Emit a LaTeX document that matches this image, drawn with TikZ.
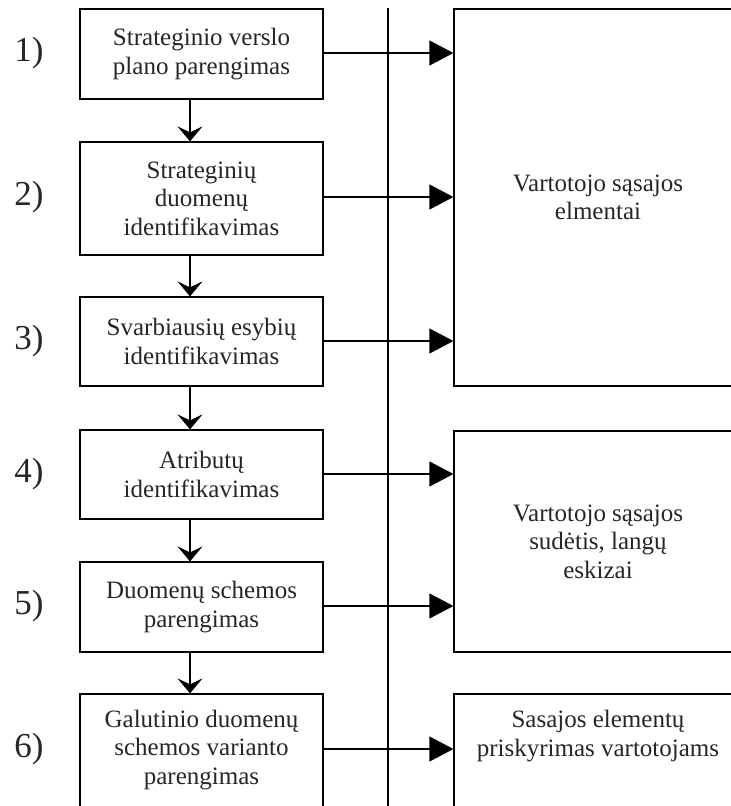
\documentclass[tikz,border=0pt]{standalone}
\usepackage{fontspec}
\setmainfont{Liberation Serif}
\usetikzlibrary{arrows.meta}
\begin{document}
\begin{tikzpicture}[x=1pt,y=-1pt,
  line width=1.2pt,
  txt/.style={text=black!85, font=\fontsize{25}{28.5}\selectfont, align=center, inner sep=0pt},
  stepbox/.style={draw, txt, minimum width=243pt},
  outbox/.style={draw, txt, minimum width=288pt},
  num/.style={font=\fontsize{35}{38}\selectfont, text=black!85, inner sep=0pt},
  down/.style={-{Stealth[length=15pt,width=25pt,inset=6pt]}},
  right/.style={-{Triangle[length=24pt,width=25pt]}}
]
\useasboundingbox (0,0) rectangle (731,806);
\clip (0,0) rectangle (731,806);

% process steps
\node[stepbox, minimum height=90pt]  (b1) at (201.5,54)    {Strateginio verslo\\plano parengimas};
\node[stepbox, minimum height=113pt] (b2) at (201.5,198.5) {Strateginių\\duomenų\\identifikavimas};
\node[stepbox, minimum height=89pt]  (b3) at (201.5,341.5) {Svarbiausių esybių\\identifikavimas};
\node[stepbox, minimum height=89pt]  (b4) at (201.5,474.5) {Atributų\\identifikavimas};
\node[stepbox, minimum height=90pt]  (b5) at (201.5,607)   {Duomenų schemos\\parengimas};
\node[stepbox, minimum height=130pt] (b6) at (201.5,759)   {};
\node[txt] (t6) at (201.5,750) {Galutinio duomenų\\schemos varianto\\parengimas};

% results
\node[outbox, minimum height=377pt] (r1) at (598,197.5) {Vartotojo sąsajos\\elmentai};
\node[outbox, minimum height=221pt] (r2) at (598,541.5) {Vartotojo sąsajos\\sudėtis, langų\\eskizai};
\node[outbox, minimum height=130pt] (r3) at (598,759)   {};
\node[txt] (t7) at (598,736) {Sasajos elementų\\priskyrimas vartotojams};

% step numbers
\node[num] (n1) at (29,53)  {1)};
\node[num] (n2) at (29,197) {2)};
\node[num] (n3) at (29,341) {3)};
\node[num] (n4) at (29,474) {4)};
\node[num] (n5) at (29,606) {5)};
\node[num] (n6) at (29,749) {6)};

% divider
\coordinate (vtop) at (388,8);
\coordinate (vbot) at (388,820);
\draw (vtop) -- (vbot);

% flow between steps
\coordinate (ax) at (190,0);
\draw[down] (b1.south -| ax) -- (b2.north -| ax);
\draw[down] (b2.south -| ax) -- (b3.north -| ax);
\draw[down] (b3.south -| ax) -- (b4.north -| ax);
\draw[down] (b4.south -| ax) -- (b5.north -| ax);
\draw[down] (b5.south -| ax) -- (b6.north -| ax);

% outputs
\coordinate (e1) at (323,53);
\coordinate (e2) at (323,197);
\coordinate (e3) at (323,341);
\coordinate (e4) at (323,474);
\coordinate (e5) at (323,606);
\coordinate (e6) at (323,749);
\draw[right] (e1) -- (e1 -| r1.west);
\draw[right] (e2) -- (e2 -| r1.west);
\draw[right] (e3) -- (e3 -| r1.west);
\draw[right] (e4) -- (e4 -| r2.west);
\draw[right] (e5) -- (e5 -| r2.west);
\draw[right] (e6) -- (e6 -| r3.west);
\end{tikzpicture}
\end{document}
